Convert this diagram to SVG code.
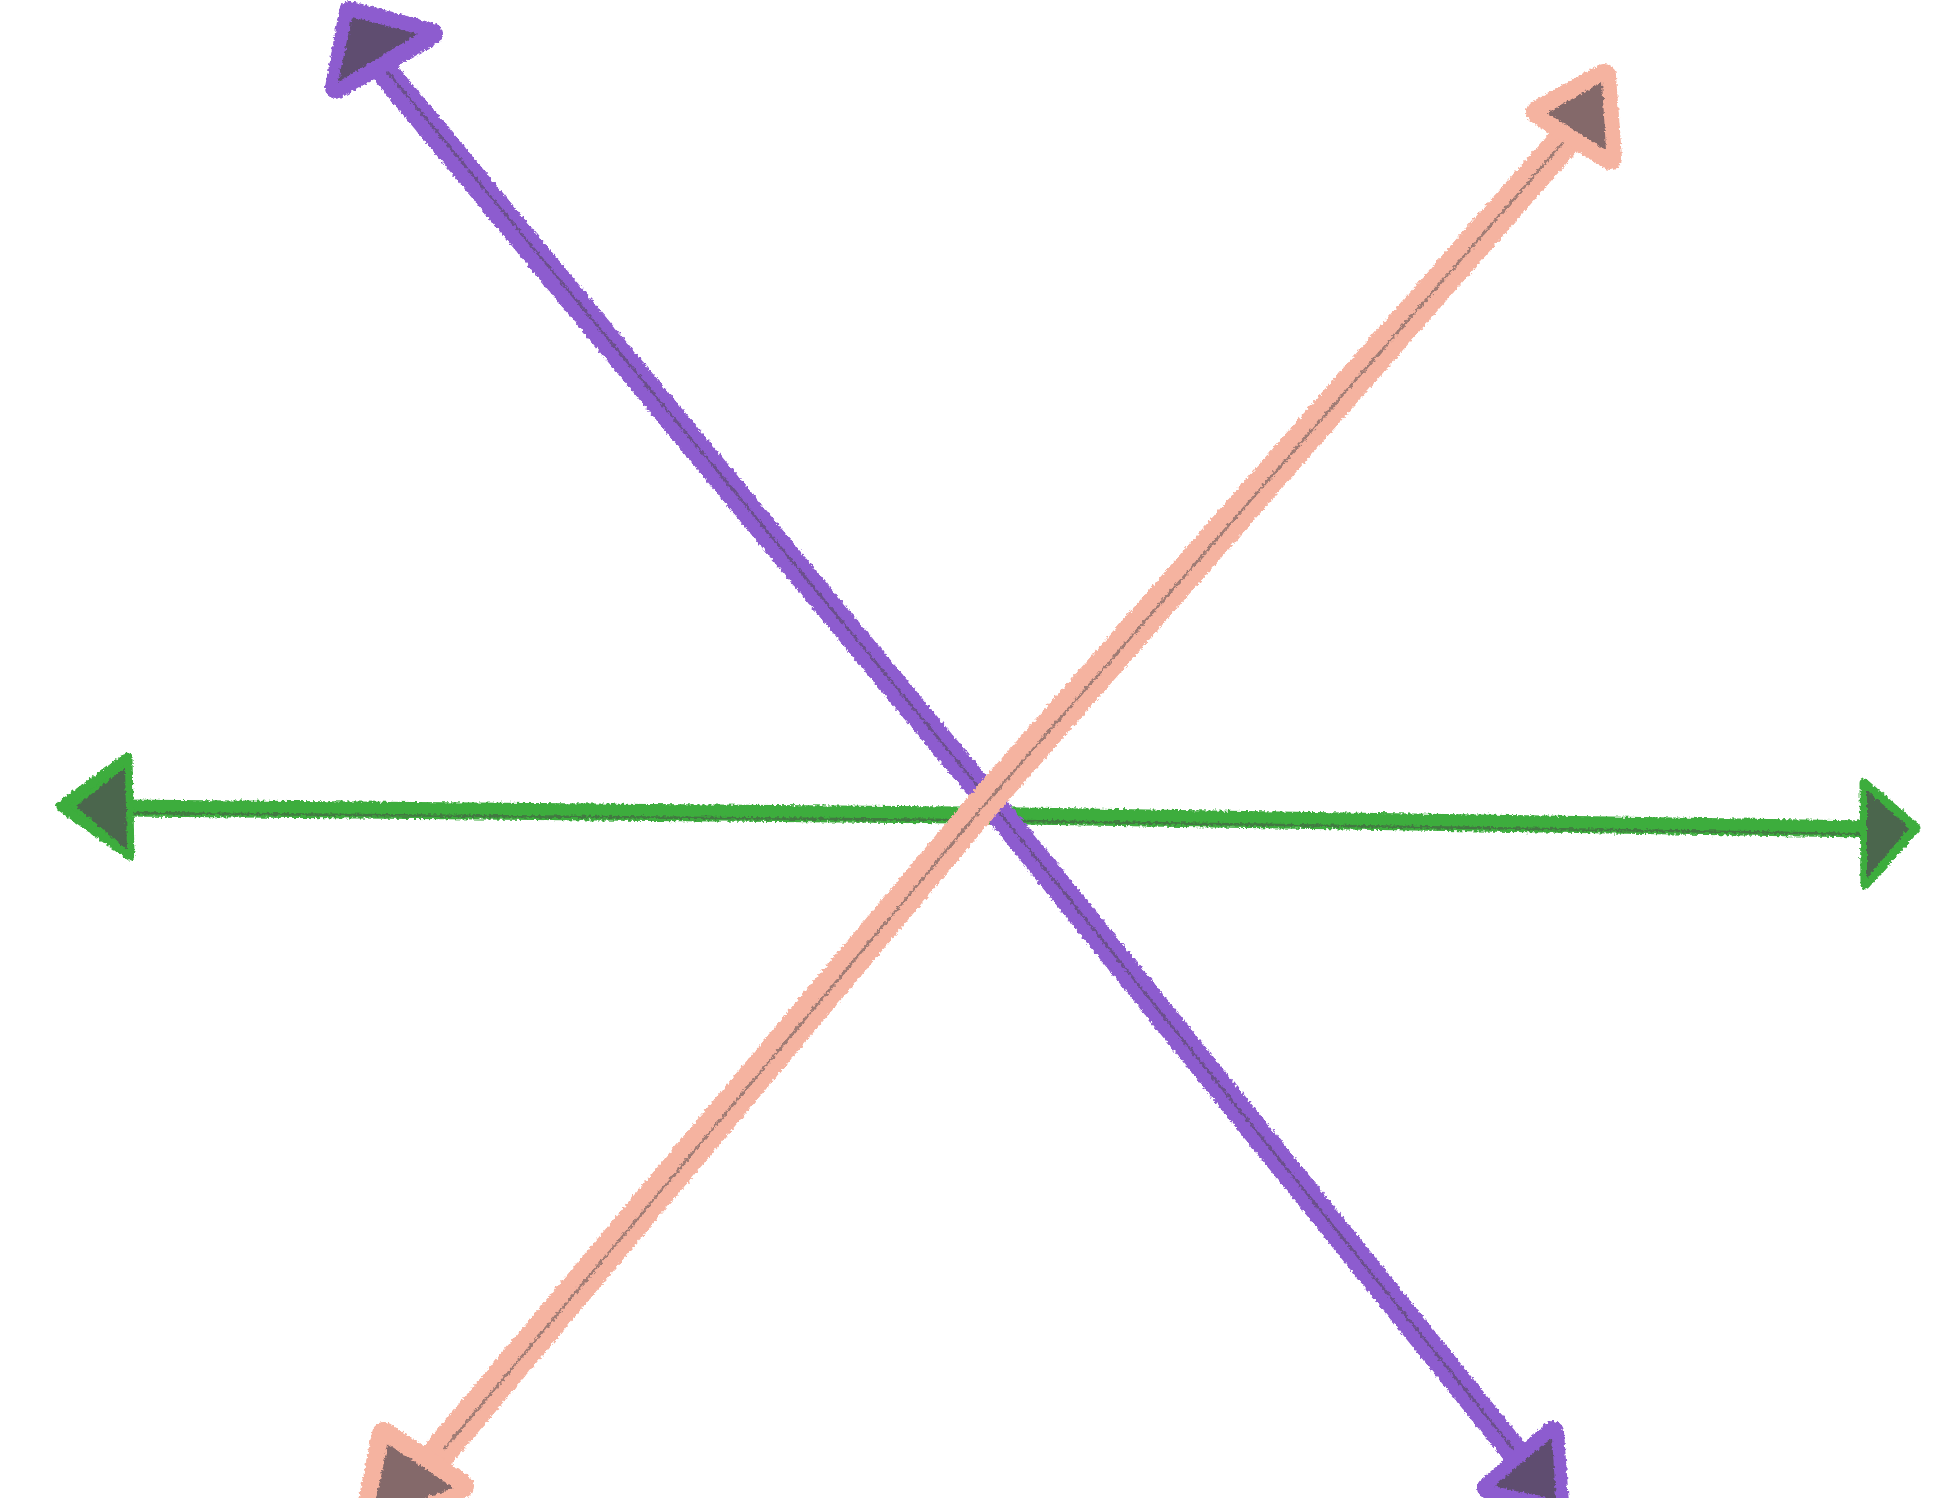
<svg xmlns="http://www.w3.org/2000/svg" width="1952" height="1498" viewBox="0 0 1952 1498">
  <defs>
    <filter id="rough" x="-5%" y="-5%" width="110%" height="110%">
      <feTurbulence type="fractalNoise" baseFrequency="0.35" numOctaves="2" seed="3" result="n"/>
      <feDisplacementMap in="SourceGraphic" in2="n" scale="5" xChannelSelector="R" yChannelSelector="G"/>
    </filter>
  </defs>
  <style>
    .band { fill: none; stroke-linecap: round; stroke-linejoin: round; }
    .core { fill: none; stroke: #4a4448; stroke-width: 2.5; stroke-linecap: round; opacity: 0.5; }
    .purple { stroke: #8d5ccf; }
    .peach { stroke: #f5b3a0; }
    .green { stroke: #3cad3c; }
    .op { fill: #8d5ccf; stroke: #8d5ccf; stroke-width: 22; stroke-linejoin: round; }
    .ok { fill: #f5b3a0; stroke: #f5b3a0; stroke-width: 24; stroke-linejoin: round; }
    .og { fill: #3cad3c; stroke: #3cad3c; stroke-width: 9; stroke-linejoin: round; }
    .dp { fill: #5b4c68; stroke: none; opacity: 0.92; }
    .dk { fill: #786064; stroke: none; opacity: 0.9; }
    .dg { fill: #4d5f4f; stroke: none; opacity: 0.92; }
  </style>
  <rect width="1952" height="1498" fill="#ffffff"/>
  <g id="connectors" filter="url(#rough)">
    <g id="green-axis">
      <path class="band green" stroke-width="17" d="M120,808 L960,815 L1868,829"/>
      <path class="core" d="M130,813 L960,820 L1860,834"/>
      <g id="green-left-head">
        <polygon class="og" points="60,806 128,757 130,856"/>
        <polygon class="dg" points="76,806 125,768 127,850"/>
      </g>
      <g id="green-right-head">
        <polygon class="og" points="1864,783 1916,828 1865,885"/>
        <polygon class="dg" points="1867,790 1909,828 1867,878"/>
      </g>
    </g>
    <g id="purple-axis">
      <path class="band purple" stroke-width="27" d="M380,66 L985,795 L1518,1456"/>
      <path class="core" d="M386,70 L987,797 L1514,1450"/>
      <g id="purple-top-head">
        <polygon class="op" points="350,12 432,34 336,88"/>
        <polygon class="dp" points="352,17 418,34 338,82"/>
      </g>
      <g id="purple-bottom-head">
        <polygon class="op" points="1553,1432 1488,1488 1558,1504"/>
        <polygon class="dp" points="1552,1438 1494,1486 1556,1500"/>
      </g>
    </g>
    <g id="peach-axis">
      <path class="band peach" stroke-width="33" d="M1572,132 L987,800 L440,1452"/>
      <path class="core" d="M1568,137 L987,802 L445,1448"/>
      <g id="peach-top-head">
        <polygon class="ok" points="1604,76 1538,112 1610,158"/>
        <polygon class="dk" points="1602,82 1547,113 1606,150"/>
      </g>
      <g id="peach-bottom-head">
        <polygon class="ok" points="384,1434 462,1486 366,1522"/>
        <polygon class="dk" points="388,1444 454,1488 372,1516"/>
      </g>
    </g>
  </g>
</svg>
